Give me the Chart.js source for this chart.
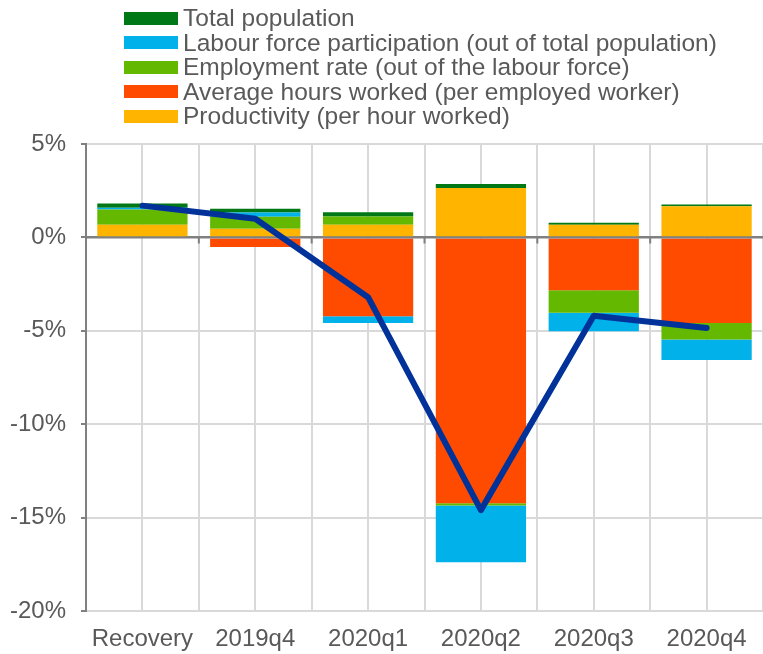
<!DOCTYPE html>
<html>
<head>
<meta charset="utf-8">
<script src="https://cdn.jsdelivr.net/npm/chart.js@4"></script>
<style>
  html, body { margin: 0; padding: 0; background: #fff; }
  #wrap { position: relative; width: 763px; height: 654px; }
  #legend { position: absolute; left: 124px; top: 6px; font-family: "Liberation Sans", Arial, sans-serif; font-size: 24.5px; color: #595959; }
  .item { display: flex; align-items: center; height: 24.5px; line-height: 24.5px; white-space: nowrap; }
  .box { width: 54px; height: 13px; margin-right: 5px; }
</style>
</head>
<body>
<div id="wrap">
  <canvas id="chart" width="763" height="654"></canvas>
  <div id="legend"></div>
</div>
<script>
const categories = ['Recovery', '2019q4', '2020q1', '2020q2', '2020q3', '2020q4'];
const productivity = [0.68, 0.46, 0.68, 2.65, 0.68, 1.67];
const hoursWorked = [0, -0.52, -4.22, -14.23, -2.83, -4.58];
const employmentRate = [0.82, 0.64, 0.44, -0.12, -1.21, -0.89];
const labourForce = [0.09, 0.23, -0.36, -3.04, -0.98, -1.09];
const totalPopulation = [0.22, 0.21, 0.23, 0.21, 0.1, 0.09];
const gdpLine = [1.7, 1.0, -3.2, -14.6, -4.2, -4.85];
const yTicks = [5, 0, -5, -10, -15, -20];

const font = { family: '"Liberation Sans", Arial, sans-serif', size: 24 };
const grey = '#595959';

// bars stack from zero in this order; legend shows them reversed
const bars = [
  { label: 'Productivity (per hour worked)', data: productivity, color: '#ffb400' },
  { label: 'Average hours worked (per employed worker)', data: hoursWorked, color: '#ff4b00' },
  { label: 'Employment rate (out of the labour force)', data: employmentRate, color: '#65b800' },
  { label: 'Labour force participation (out of total population)', data: labourForce, color: '#00b1ea' },
  { label: 'Total population', data: totalPopulation, color: '#007816' }
];

// zero axis line with tick marks between categories, drawn over bars but under the line
const zeroAxis = {
  id: 'zeroAxis',
  beforeDatasetDraw(chart, args) {
    if (chart.data.datasets[args.index].type !== 'line') return;
    const { ctx, chartArea, scales } = chart;
    const y0 = scales.y.getPixelForValue(0);
    ctx.save();
    ctx.strokeStyle = '#808080';
    ctx.lineWidth = 2;
    ctx.beginPath();
    ctx.moveTo(chartArea.left, y0);
    ctx.lineTo(chartArea.right, y0);
    for (let i = 1; i < categories.length; i++) {
      const x = scales.x2.getPixelForValue(i - 0.5);
      ctx.moveTo(x, y0);
      ctx.lineTo(x, y0 + 6);
    }
    ctx.stroke();
    ctx.restore();
  }
};

const datasets = bars.map(b => ({
  type: 'bar',
  label: b.label,
  data: b.data,
  backgroundColor: b.color,
  borderWidth: 0,
  order: 1,
  barPercentage: 0.8,
  categoryPercentage: 1
}));
datasets.push({
  type: 'line',
  label: 'GDP',
  data: gdpLine,
  borderColor: '#003299',
  borderWidth: 6,
  pointRadius: 0,
  tension: 0,
  borderCapStyle: 'round',
  borderJoinStyle: 'round',
  stack: 'line',
  order: 0
});

new Chart(document.getElementById('chart'), {
  data: { labels: categories, datasets: datasets },
  plugins: [zeroAxis],
  options: {
    responsive: false,
    animation: false,
    layout: { padding: { top: 144, left: 0, right: 0, bottom: 0 } },
    plugins: {
      legend: { display: false },
      tooltip: { enabled: false }
    },
    scales: {
      x: {
        stacked: true,
        grid: { display: false, drawTicks: false },
        border: { display: false },
        ticks: { color: grey, font: font, padding: 14, maxRotation: 0 },
        afterFit: s => { s.height = 43; }
      },
      x2: {
        type: 'linear',
        position: 'top',
        min: -0.5,
        max: categories.length - 0.5,
        grid: { color: '#d9d9d9', lineWidth: 2, drawTicks: false },
        border: { display: false },
        ticks: { display: false, stepSize: 0.5, maxTicksLimit: 30 }
      },
      y: {
        stacked: true,
        min: -20,
        max: 5,
        afterBuildTicks: s => { s.ticks = yTicks.map(v => ({ value: v })); },
        afterFit: s => { s.width = 86; },
        grid: {
          color: c => c.tick && c.tick.value === 0 ? '#808080' : '#d9d9d9',
          lineWidth: 2,
          tickColor: '#808080',
          tickLength: 5
        },
        border: { color: '#808080', width: 2 },
        ticks: { color: grey, font: font, padding: 15, callback: v => v + '%' }
      }
    }
  }
});

// legend as plain text list, top to bottom
const legend = document.getElementById('legend');
bars.slice().reverse().forEach(b => {
  const row = document.createElement('div');
  row.className = 'item';
  const box = document.createElement('span');
  box.className = 'box';
  box.style.background = b.color;
  row.appendChild(box);
  row.appendChild(document.createTextNode(b.label));
  legend.appendChild(row);
});
</script>
</body>
</html>
